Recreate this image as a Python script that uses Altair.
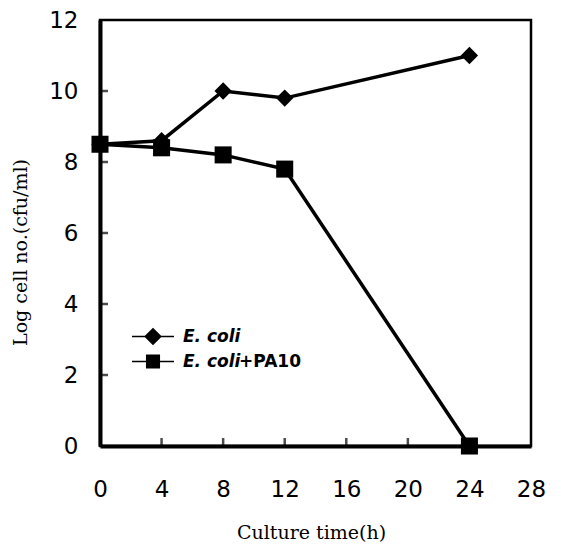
import altair as alt
import pandas as pd

# ---- data ----
time_h = [0, 4, 8, 12, 24]
ecoli = [8.5, 8.6, 10.0, 9.8, 11.0]
ecoli_pa10 = [8.5, 8.4, 8.2, 7.8, 0.0]
series_names = ["E. coli", "E. coli+PA10"]
x_tick_values = [0, 4, 8, 12, 16, 20, 24, 28]
y_tick_values = [0, 2, 4, 6, 8, 10, 12]
inner_x_ticks = [4, 8, 12, 16, 20, 24]
inner_y_ticks = [2, 4, 6, 8, 10]

df = pd.DataFrame({
    "time": time_h + time_h,
    "logcell": ecoli + ecoli_pa10,
    "series": [series_names[0]] * len(time_h) + [series_names[1]] * len(time_h),
})
xt = pd.DataFrame({"t": inner_x_ticks})
yt = pd.DataFrame({"t": inner_y_ticks})

x_scale = alt.Scale(domain=[0, 28], nice=False, zero=False)
y_scale = alt.Scale(domain=[0, 12], nice=False)

x_axis = alt.Axis(values=x_tick_values, title="Culture time(h)", tickSize=0,
                  labelPadding=32, labelFontSize=23, titleX=211, titleY=86,
                  titleBaseline="middle", titleAlign="center", labelFlush=False)
y_axis = alt.Axis(values=y_tick_values, title="Log cell no.(cfu/ml)", tickSize=0,
                  labelPadding=22, labelFontSize=23, titleX=-80, titleY=232,
                  titleAngle=270, titleBaseline="middle", titleAlign="center")

base = alt.Chart(df)

lines = base.mark_line(color="black", strokeWidth=3.5).encode(
    x=alt.X("time:Q", scale=x_scale, axis=x_axis),
    y=alt.Y("logcell:Q", scale=y_scale, axis=y_axis),
    detail="series:N",
)

points = base.mark_point(filled=True, fill="black", opacity=1).encode(
    x="time:Q",
    y="logcell:Q",
    shape=alt.Shape("series:N", scale=alt.Scale(domain=series_names, range=["diamond", "square"]), legend=None),
    size=alt.Size("series:N", scale=alt.Scale(domain=series_names, range=[300, 290]), legend=None),
)

diamond_path = "M-1,0L-0.37,0M0.37,0L1,0M0,-0.37L0.37,0L0,0.37L-0.37,0Z"
square_path = "M-1,0L-0.3,0M0.3,0L1,0M-0.3,-0.3L0.3,-0.3L0.3,0.3L-0.3,0.3Z"

legend_layer = base.mark_point(filled=True, fill="black", stroke="black", strokeWidth=1.5, opacity=1).encode(
    x="time:Q",
    y="logcell:Q",
    shape=alt.Shape(
        "series:N",
        scale=alt.Scale(domain=series_names, range=[diamond_path, square_path]),
        legend=alt.Legend(
            orient="none", legendX=31, legendY=304, title=None,
            symbolSize=1764, symbolStrokeWidth=1.5, clipHeight=25,
            labelFont="DejaVu Sans", labelFontSize=17, labelFontWeight="bold",
            labelFontStyle="italic", labelColor="black", labelOffset=8,
            labelExpr="'E. coli'", rowPadding=0,
        ),
    ),
).transform_filter(alt.datum.time < 0)

suffix = alt.Chart(pd.DataFrame({"s": ["+PA10"]})).mark_text(
    align="left", baseline="middle", font="DejaVu Sans", fontSize=17,
    fontWeight="bold", color="black",
).encode(x=alt.value(139), y=alt.value(342), text="s:N")

xticks = alt.Chart(xt).mark_tick(orient="vertical", size=16, thickness=2.5, color="black", clip=True).encode(
    x="t:Q", y=alt.datum(0)
)
yticks = alt.Chart(yt).mark_tick(orient="horizontal", size=16, thickness=2.5, color="black", clip=True).encode(
    y="t:Q", x=alt.datum(0)
)

chart = alt.layer(lines, xticks, yticks, points, legend_layer, suffix).resolve_scale(
    shape="independent", size="independent"
).properties(
    width=431, height=426,
    autosize=alt.AutoSizeParams(type="none"),
    padding={"left": 92, "top": 12, "right": 20, "bottom": 107},
).configure_view(
    stroke="black", strokeWidth=2.5
).configure_axis(
    grid=False, domainColor="black", domainWidth=4, labelColor="black",
    labelFont="DejaVu Sans", titleFont="DejaVu Serif", titleFontSize=19,
    titleFontWeight="normal", titleColor="black",
)

chart.save("out.html", embed_options={"renderer": "svg", "actions": False})
